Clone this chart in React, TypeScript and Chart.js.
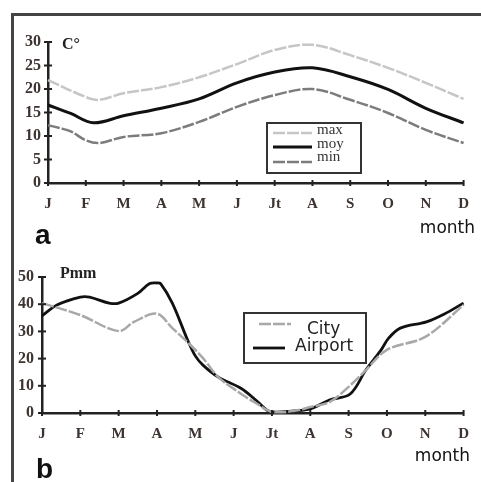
import React, { useEffect, useRef } from 'react';
import { Chart, registerables } from 'chart.js';

Chart.register(...registerables);

// ---------- data ----------
const MONTHS = ['J', 'F', 'M', 'A', 'M', 'J', 'Jt', 'A', 'S', 'O', 'N', 'D'];

// Temperature (°C), x = month position (0 = J ... 11 = D)
const TMAX_X = [0, 1, 1.35, 2, 3, 4, 5, 6, 7, 8, 9, 10, 11];
const TMAX = [21.9, 18.3, 17.7, 19.1, 20.4, 22.5, 25.3, 28.3, 29.4, 27.2, 24.5, 21.3, 17.9];

const TMOY_X = [0, 0.6, 1.2, 2, 3, 4, 5, 6, 7, 8, 9, 10, 11];
const TMOY = [16.6, 14.8, 12.8, 14.3, 15.9, 17.9, 21.3, 23.6, 24.5, 22.6, 19.9, 15.9, 12.8];

const TMIN_X = [0, 0.3, 0.6, 1, 1.35, 2, 3, 4, 5, 6, 7, 8, 9, 10, 11];
const TMIN = [12.3, 11.7, 11.0, 9.1, 8.5, 9.8, 10.6, 13.0, 16.2, 18.7, 20.0, 17.7, 14.9, 11.3, 8.5];

const TEMP_LABELS = ['max', 'moy', 'min'];

// Precipitation (mm)
const CITY_X = [0, 1, 2, 2.4, 3, 3.4, 3.8, 4.2, 4.6, 5.2, 5.6, 6, 6.6, 7, 7.5, 8, 8.4, 9, 10, 11];
const CITY = [40.4, 36, 30.1, 33.5, 36.5, 31.2, 26, 20.2, 13.2, 7, 3.5, 0.4, 0.8, 2.2, 4, 9.6, 15, 23.2, 28, 39.7];

const AIRPORT_X = [0, 0.39, 1, 1.24, 1.75, 2, 2.5, 2.8, 3, 3.1, 3.4, 3.8, 4, 4.2, 4.6, 5.2, 5.6, 5.95, 6.6, 7, 7.5, 8.04, 8.45, 8.84, 9.05, 9.35, 10.03, 10.5, 11];
const AIRPORT = [35.7, 39.7, 42.6, 42.6, 40.4, 40.4, 44, 47.5, 47.8, 47.5, 40.4, 26.8, 21, 17.6, 13.2, 9, 4.5, 0.5, 0.8, 1.5, 4.8, 7, 15.8, 23, 27.6, 31.2, 33.5, 36.4, 40.4];

const PREC_LABELS = ['City', 'Airport'];

const pts = (xs: number[], ys: number[]) => xs.map((x, i) => ({ x, y: ys[i] }));

// ---------- plugins ----------
const crossTicks = {
  id: 'crossTicks',
  afterDraw(chart: any, _a: any, opts: any) {
    const { ctx, chartArea, scales } = chart;
    const xs = scales.x;
    const ys = scales.y;
    ctx.save();
    ctx.strokeStyle = opts.color;
    ctx.lineWidth = opts.width;
    ys.ticks.forEach((t: any) => {
      const py = ys.getPixelForValue(t.value);
      ctx.beginPath();
      ctx.moveTo(chartArea.left - opts.yLen, py);
      ctx.lineTo(chartArea.left + opts.yLen, py);
      ctx.stroke();
    });
    xs.ticks.forEach((t: any) => {
      const px = xs.getPixelForValue(t.value);
      ctx.beginPath();
      ctx.moveTo(px, chartArea.bottom - opts.xLen);
      ctx.lineTo(px, chartArea.bottom + opts.xLen);
      ctx.stroke();
    });
    ctx.restore();
  },
};

const texts = {
  id: 'texts',
  afterDraw(chart: any, _a: any, opts: any) {
    const ctx = chart.ctx;
    ctx.save();
    (opts.items || []).forEach((t: any) => {
      ctx.font = t.font;
      ctx.fillStyle = t.color || '#222';
      ctx.textAlign = t.align || 'left';
      ctx.textBaseline = t.baseline || 'middle';
      ctx.fillText(t.text, t.x, t.y);
    });
    ctx.restore();
  },
};

const boxLegend = {
  id: 'boxLegend',
  afterDraw(chart: any, _a: any, opts: any) {
    if (!opts.box) return;
    const ctx = chart.ctx;
    const b = opts.box;
    ctx.save();
    ctx.fillStyle = '#fff';
    ctx.fillRect(b.x, b.y, b.w, b.h);
    ctx.strokeStyle = opts.borderColor;
    ctx.lineWidth = opts.borderWidth;
    ctx.strokeRect(b.x, b.y, b.w, b.h);
    opts.entries.forEach((e: any) => {
      const ds = chart.data.datasets[e.dataset];
      ctx.strokeStyle = ds.borderColor;
      ctx.lineWidth = ds.borderWidth;
      ctx.setLineDash(ds.borderDash || []);
      ctx.beginPath();
      ctx.moveTo(e.x1, e.ly);
      ctx.lineTo(e.x2, e.ly);
      ctx.stroke();
      ctx.setLineDash([]);
      ctx.fillStyle = opts.color;
      ctx.font = opts.font;
      ctx.textAlign = 'left';
      ctx.textBaseline = 'middle';
      ctx.fillText(ds.label, e.tx, e.ty);
    });
    ctx.restore();
  },
};

const AXIS_COLOR = '#222';
const TICK_COLOR = '#3d3330';

function makeOptions(cfg: any) {
  return {
    responsive: false,
    animation: false,
    layout: { padding: cfg.padding },
    plugins: {
      legend: { display: false },
      tooltip: { enabled: false },
      crossTicks: { color: AXIS_COLOR, width: 2, yLen: 4, xLen: 3 },
      texts: { items: cfg.texts },
      boxLegend: cfg.legend,
    },
    elements: { point: { radius: 0 } },
    scales: {
      x: {
        type: 'linear',
        min: 0,
        max: 11,
        afterFit: (s: any) => {
          s.height = cfg.xHeight;
        },
        grid: { display: false, drawTicks: false },
        border: { display: true, color: AXIS_COLOR, width: 2.5 },
        ticks: {
          stepSize: 1,
          autoSkip: false,
          maxRotation: 0,
          padding: cfg.xPad,
          color: TICK_COLOR,
          font: { family: 'Liberation Serif', size: 15, weight: 'bold' },
          callback: (v: any) => MONTHS[v] ?? '',
        },
      },
      y: {
        min: 0,
        max: cfg.yMax,
        afterFit: (s: any) => {
          s.width = cfg.yWidth;
        },
        grid: { display: false, drawTicks: false },
        border: { display: true, color: AXIS_COLOR, width: 2.5 },
        ticks: {
          stepSize: 5,
          padding: cfg.yPad,
          color: TICK_COLOR,
          font: { family: 'Liberation Serif', size: 16, weight: 'bold' },
          callback: cfg.yCallback,
        },
      },
    },
  };
}

function useChart(ref: React.RefObject<HTMLCanvasElement | null>, build: () => any) {
  useEffect(() => {
    if (!ref.current) return;
    const chart = new Chart(ref.current, build());
    return () => chart.destroy();
  }, []);
}

export default function App() {
  const topRef = useRef<HTMLCanvasElement>(null);
  const botRef = useRef<HTMLCanvasElement>(null);

  useChart(topRef, () => ({
    type: 'line',
    plugins: [crossTicks, texts, boxLegend],
    data: {
      datasets: [
        {
          label: TEMP_LABELS[0],
          data: pts(TMAX_X, TMAX),
          borderColor: '#c6c6c6',
          borderWidth: 2.5,
          borderDash: [12, 2],
          tension: 0.35,
          clip: false,
        },
        {
          label: TEMP_LABELS[1],
          data: pts(TMOY_X, TMOY),
          borderColor: '#111',
          borderWidth: 3,
          tension: 0.35,
          clip: false,
        },
        {
          label: TEMP_LABELS[2],
          data: pts(TMIN_X, TMIN),
          borderColor: '#7c7c7c',
          borderWidth: 2.5,
          borderDash: [12, 2],
          tension: 0.35,
          clip: false,
        },
      ],
    },
    options: makeOptions({
      padding: { top: 42, right: 12, left: 0, bottom: 0 },
      xHeight: 67,
      yWidth: 48,
      yMax: 30,
      xPad: 12,
      yPad: 7,
      yCallback: (v: any) => String(v),
      texts: [
        { text: 'C°', x: 62, y: 45, font: 'bold 16px "Liberation Serif"', color: '#222' },
        { text: 'month', x: 475, y: 229, font: '17px "DejaVu Sans"', color: '#111', align: 'right' },
        { text: 'a', x: 35, y: 244, font: 'bold 28px "Liberation Sans"', color: '#111', baseline: 'alphabetic' },
      ],
      legend: {
        box: { x: 267, y: 123, w: 94, h: 50 },
        borderColor: '#333',
        borderWidth: 2,
        color: '#333',
        font: '15px "Liberation Serif"',
        entries: [
          { dataset: 0, x1: 273, x2: 312, ly: 133, tx: 317, ty: 130 },
          { dataset: 1, x1: 273, x2: 312, ly: 147, tx: 317, ty: 144 },
          { dataset: 2, x1: 273, x2: 312, ly: 162, tx: 317, ty: 157 },
        ],
      },
    }),
  }));

  useChart(botRef, () => ({
    type: 'line',
    plugins: [crossTicks, texts, boxLegend],
    data: {
      datasets: [
        {
          label: PREC_LABELS[0],
          data: pts(CITY_X, CITY),
          borderColor: '#a8a8a8',
          borderWidth: 2.5,
          borderDash: [12, 2],
          tension: 0.35,
          clip: false,
        },
        {
          label: PREC_LABELS[1],
          data: pts(AIRPORT_X, AIRPORT),
          borderColor: '#111',
          borderWidth: 2.8,
          tension: 0.35,
          clip: false,
        },
      ],
    },
    options: makeOptions({
      padding: { top: 37, right: 12, left: 0, bottom: 0 },
      xHeight: 69,
      yWidth: 42,
      yMax: 50,
      xPad: 12,
      yPad: 8,
      yCallback: (v: any) => (v % 10 === 0 ? String(v) : ''),
      texts: [
        { text: 'Pmm', x: 60, y: 34, font: 'bold 16px "Liberation Serif"', color: '#222' },
        { text: 'month', x: 470, y: 217, font: '17px "DejaVu Sans"', color: '#111', align: 'right' },
        { text: 'b', x: 36, y: 238, font: 'bold 28px "Liberation Sans"', color: '#111', baseline: 'alphabetic' },
      ],
      legend: {
        box: { x: 244, y: 73, w: 122, h: 50 },
        borderColor: '#333',
        borderWidth: 2,
        color: '#222',
        font: '17px "DejaVu Sans"',
        entries: [
          { dataset: 0, x1: 259, x2: 291, ly: 84, tx: 307, ty: 90 },
          { dataset: 1, x1: 253, x2: 285, ly: 108, tx: 295, ty: 107 },
        ],
      },
    }),
  }));

  return (
    <div
      style={{
        position: 'fixed',
        left: 0,
        top: 0,
        width: 481,
        height: 482,
        background: '#fff',
        overflow: 'hidden',
      }}
    >
      <div
        style={{
          position: 'absolute',
          left: 11,
          top: 13,
          width: 480,
          height: 480,
          borderLeft: '3px solid #444',
          borderTop: '3px solid #444',
        }}
      />
      <canvas ref={topRef} width={481} height={250} style={{ position: 'absolute', left: 0, top: 0 }} />
      <canvas ref={botRef} width={481} height={242} style={{ position: 'absolute', left: 0, top: 240 }} />
    </div>
  );
}
